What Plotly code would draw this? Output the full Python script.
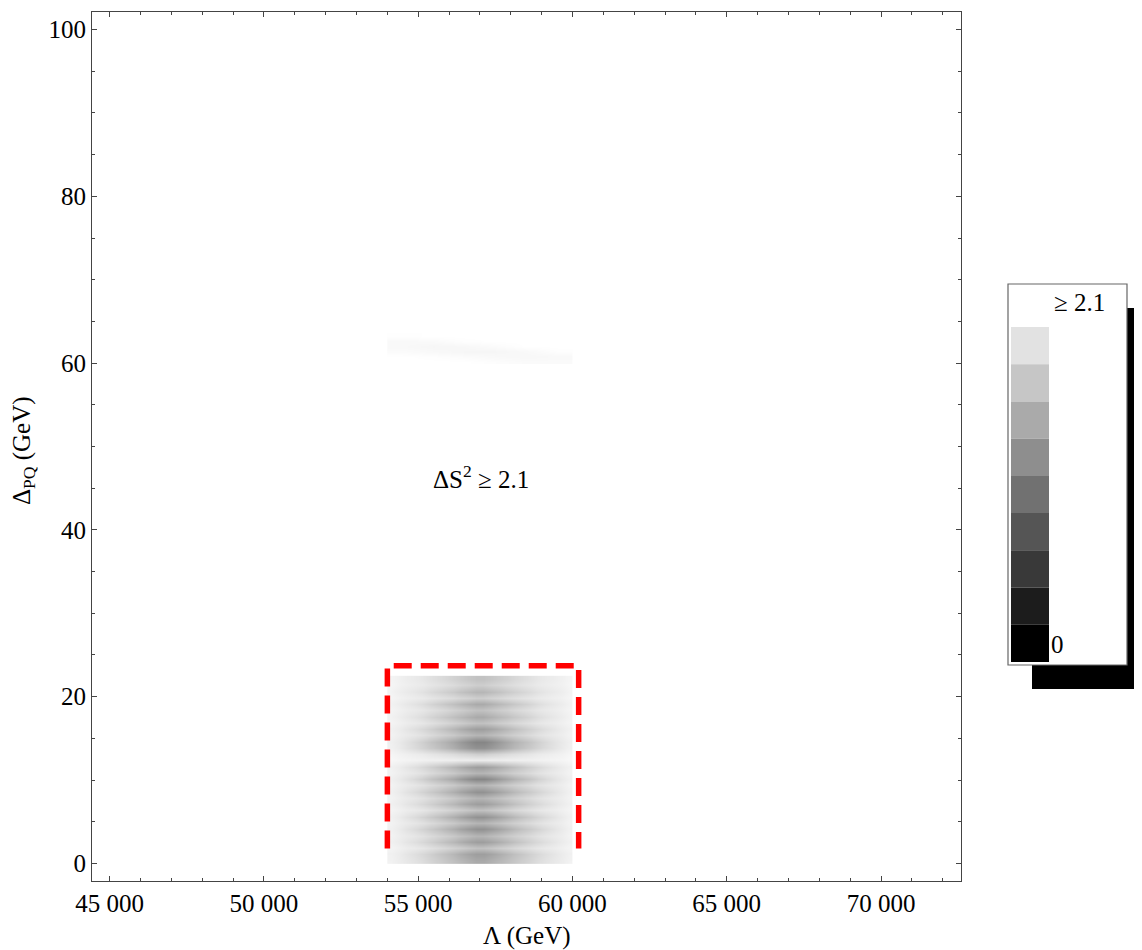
import plotly.graph_objects as go

# ---------------- data ----------------
lambda_cols = [54125, 54375, 54625, 54875, 55125, 55375, 55625, 55875, 56125, 56375, 56625, 56875,
               57125, 57375, 57625, 57875, 58125, 58375, 58625, 58875, 59125, 59375, 59625, 59875]
delta_rows = [0.375, 1.125, 1.875, 2.625, 3.375, 4.125, 4.875, 5.625, 6.375, 7.125,
              7.875, 8.625, 9.375, 10.125, 10.875, 11.625, 12.375, 13.125, 13.875, 14.625,
              15.375, 16.125, 16.875, 17.625, 18.375, 19.125, 19.875, 20.625, 21.375, 22.125]
dS2_main = [
    [1.99, 1.95, 1.91, 1.87, 1.82, 1.76, 1.70, 1.64, 1.58, 1.52, 1.46, 1.40, 1.40, 1.46, 1.52, 1.58, 1.64, 1.70, 1.76, 1.82, 1.87, 1.91, 1.95, 1.99],
    [1.98, 1.94, 1.89, 1.84, 1.78, 1.72, 1.65, 1.58, 1.51, 1.43, 1.36, 1.30, 1.30, 1.36, 1.43, 1.51, 1.58, 1.65, 1.72, 1.78, 1.84, 1.89, 1.94, 1.98],
    [2.01, 1.98, 1.95, 1.93, 1.90, 1.86, 1.82, 1.78, 1.73, 1.69, 1.64, 1.60, 1.60, 1.64, 1.69, 1.73, 1.78, 1.82, 1.86, 1.90, 1.93, 1.95, 1.98, 2.01],
    [1.98, 1.94, 1.89, 1.84, 1.78, 1.72, 1.65, 1.58, 1.51, 1.43, 1.36, 1.30, 1.30, 1.36, 1.43, 1.51, 1.58, 1.65, 1.72, 1.78, 1.84, 1.89, 1.94, 1.98],
    [2.00, 1.96, 1.93, 1.90, 1.86, 1.81, 1.76, 1.71, 1.66, 1.60, 1.55, 1.50, 1.50, 1.55, 1.60, 1.66, 1.71, 1.76, 1.81, 1.86, 1.90, 1.93, 1.96, 2.00],
    [1.98, 1.93, 1.87, 1.81, 1.74, 1.67, 1.60, 1.52, 1.44, 1.35, 1.27, 1.20, 1.20, 1.27, 1.35, 1.44, 1.52, 1.60, 1.67, 1.74, 1.81, 1.87, 1.93, 1.98],
    [2.00, 1.96, 1.93, 1.90, 1.86, 1.81, 1.76, 1.71, 1.66, 1.60, 1.55, 1.50, 1.50, 1.55, 1.60, 1.66, 1.71, 1.76, 1.81, 1.86, 1.90, 1.93, 1.96, 2.00],
    [1.98, 1.93, 1.87, 1.81, 1.74, 1.67, 1.60, 1.52, 1.44, 1.35, 1.27, 1.20, 1.20, 1.27, 1.35, 1.44, 1.52, 1.60, 1.67, 1.74, 1.81, 1.87, 1.93, 1.98],
    [2.01, 1.98, 1.95, 1.93, 1.90, 1.86, 1.82, 1.78, 1.73, 1.69, 1.64, 1.60, 1.60, 1.64, 1.69, 1.73, 1.78, 1.82, 1.86, 1.90, 1.93, 1.95, 1.98, 2.01],
    [1.98, 1.94, 1.89, 1.84, 1.78, 1.72, 1.65, 1.58, 1.51, 1.43, 1.36, 1.30, 1.30, 1.36, 1.43, 1.51, 1.58, 1.65, 1.72, 1.78, 1.84, 1.89, 1.94, 1.98],
    [2.00, 1.96, 1.93, 1.90, 1.86, 1.81, 1.76, 1.71, 1.66, 1.60, 1.55, 1.50, 1.50, 1.55, 1.60, 1.66, 1.71, 1.76, 1.81, 1.86, 1.90, 1.93, 1.96, 2.00],
    [1.98, 1.93, 1.87, 1.81, 1.74, 1.67, 1.60, 1.52, 1.44, 1.35, 1.27, 1.20, 1.20, 1.27, 1.35, 1.44, 1.52, 1.60, 1.67, 1.74, 1.81, 1.87, 1.93, 1.98],
    [2.00, 1.96, 1.93, 1.90, 1.86, 1.81, 1.76, 1.71, 1.66, 1.60, 1.55, 1.50, 1.50, 1.55, 1.60, 1.66, 1.71, 1.76, 1.81, 1.86, 1.90, 1.93, 1.96, 2.00],
    [1.97, 1.92, 1.86, 1.79, 1.71, 1.63, 1.55, 1.47, 1.38, 1.28, 1.18, 1.10, 1.10, 1.18, 1.28, 1.38, 1.47, 1.55, 1.63, 1.71, 1.79, 1.86, 1.92, 1.97],
    [2.00, 1.96, 1.93, 1.90, 1.86, 1.81, 1.76, 1.71, 1.66, 1.60, 1.55, 1.50, 1.50, 1.55, 1.60, 1.66, 1.71, 1.76, 1.81, 1.86, 1.90, 1.93, 1.96, 2.00],
    [1.98, 1.94, 1.89, 1.84, 1.78, 1.72, 1.65, 1.58, 1.51, 1.43, 1.36, 1.30, 1.30, 1.36, 1.43, 1.51, 1.58, 1.65, 1.72, 1.78, 1.84, 1.89, 1.94, 1.98],
    [2.04, 2.02, 2.01, 2.00, 1.99, 1.98, 1.98, 1.97, 1.97, 1.96, 1.96, 1.95, 1.95, 1.96, 1.96, 1.97, 1.97, 1.98, 1.98, 1.99, 2.00, 2.01, 2.02, 2.04],
    [2.02, 1.99, 1.97, 1.95, 1.93, 1.90, 1.87, 1.84, 1.81, 1.77, 1.74, 1.70, 1.70, 1.74, 1.77, 1.81, 1.84, 1.87, 1.90, 1.93, 1.95, 1.97, 1.99, 2.02],
    [1.98, 1.93, 1.87, 1.81, 1.74, 1.67, 1.60, 1.52, 1.44, 1.35, 1.27, 1.20, 1.20, 1.27, 1.35, 1.44, 1.52, 1.60, 1.67, 1.74, 1.81, 1.87, 1.93, 1.98],
    [1.97, 1.92, 1.86, 1.79, 1.71, 1.63, 1.55, 1.47, 1.38, 1.28, 1.18, 1.10, 1.10, 1.18, 1.28, 1.38, 1.47, 1.55, 1.63, 1.71, 1.79, 1.86, 1.92, 1.97],
    [2.00, 1.96, 1.93, 1.90, 1.86, 1.81, 1.76, 1.71, 1.66, 1.60, 1.55, 1.50, 1.50, 1.55, 1.60, 1.66, 1.71, 1.76, 1.81, 1.86, 1.90, 1.93, 1.96, 2.00],
    [1.98, 1.94, 1.89, 1.84, 1.78, 1.72, 1.65, 1.58, 1.51, 1.43, 1.36, 1.30, 1.30, 1.36, 1.43, 1.51, 1.58, 1.65, 1.72, 1.78, 1.84, 1.89, 1.94, 1.98],
    [2.01, 1.98, 1.95, 1.93, 1.90, 1.86, 1.82, 1.78, 1.73, 1.69, 1.64, 1.60, 1.60, 1.64, 1.69, 1.73, 1.78, 1.82, 1.86, 1.90, 1.93, 1.95, 1.98, 2.01],
    [1.99, 1.95, 1.91, 1.87, 1.82, 1.76, 1.70, 1.64, 1.58, 1.52, 1.46, 1.40, 1.40, 1.46, 1.52, 1.58, 1.64, 1.70, 1.76, 1.82, 1.87, 1.91, 1.95, 1.99],
    [2.01, 1.98, 1.95, 1.93, 1.90, 1.86, 1.82, 1.78, 1.73, 1.69, 1.64, 1.60, 1.60, 1.64, 1.69, 1.73, 1.78, 1.82, 1.86, 1.90, 1.93, 1.95, 1.98, 2.01],
    [1.99, 1.95, 1.91, 1.87, 1.82, 1.76, 1.70, 1.64, 1.58, 1.52, 1.46, 1.40, 1.40, 1.46, 1.52, 1.58, 1.64, 1.70, 1.76, 1.82, 1.87, 1.91, 1.95, 1.99],
    [2.02, 1.99, 1.97, 1.95, 1.93, 1.90, 1.87, 1.84, 1.81, 1.77, 1.74, 1.70, 1.70, 1.74, 1.77, 1.81, 1.84, 1.87, 1.90, 1.93, 1.95, 1.97, 1.99, 2.02],
    [2.00, 1.96, 1.93, 1.90, 1.86, 1.81, 1.76, 1.71, 1.66, 1.60, 1.55, 1.50, 1.50, 1.55, 1.60, 1.66, 1.71, 1.76, 1.81, 1.86, 1.90, 1.93, 1.96, 2.00],
    [2.02, 1.99, 1.97, 1.95, 1.93, 1.90, 1.87, 1.84, 1.81, 1.77, 1.74, 1.70, 1.70, 1.74, 1.77, 1.81, 1.84, 1.87, 1.90, 1.93, 1.95, 1.97, 1.99, 2.02],
    [2.01, 1.98, 1.95, 1.93, 1.90, 1.86, 1.82, 1.78, 1.73, 1.69, 1.64, 1.60, 1.60, 1.64, 1.69, 1.73, 1.78, 1.82, 1.86, 1.90, 1.93, 1.95, 1.98, 2.01],
]

faint_cols = [54500, 55500, 56500, 57500, 58500, 59500]
faint_rows = [60.2, 60.8, 61.4, 62.0, 62.6, 63.2]
dS2_faint = [
    [2.10, 2.10, 2.10, 2.08, 2.06, 2.06],
    [2.10, 2.09, 2.07, 2.05, 2.04, 2.05],
    [2.07, 2.05, 2.03, 2.03, 2.05, 2.09],
    [2.05, 2.03, 2.04, 2.07, 2.10, 2.10],
    [2.05, 2.06, 2.09, 2.10, 2.10, 2.10],
    [2.09, 2.10, 2.10, 2.10, 2.10, 2.10],
]

box_lambda = [54000, 60200]
box_delta = [1.8, 23.7]

x_tickvals = [45000, 50000, 55000, 60000, 65000, 70000]
x_ticktext = ["45 000", "50 000", "55 000", "60 000", "65 000", "70 000"]
y_tickvals = [0, 20, 40, 60, 80, 100]

legend_colors = ["#e2e2e2", "#c6c6c6", "#aaaaaa", "#8e8e8e", "#717171",
                 "#555555", "#393939", "#1c1c1c", "#000000"]
legend_top_label = "\u2265 2.1"
legend_bottom_label = "0"
z_max = 2.1

# ---------------- layout constants ----------------
PAGE_OFF = 8                      # default body margin of the page
W, H = 1142 - PAGE_OFF, 950 - PAGE_OFF
PW, PH = 869, 869
L, T = 92 - PAGE_OFF, 12 - PAGE_OFF
R, B = W - L - PW, H - T - PH
FONT = "Liberation Serif, Times New Roman, serif"
FS = 25


def fx(px):
    # page pixel -> paper x
    return (px - PAGE_OFF - L) / PW


def fy(py):
    # page pixel -> paper y
    return (H - B - (py - PAGE_OFF)) / PH


gray_scale = [[0.0, "#000000"], [1.0, "#ffffff"]]

fig = go.Figure()
fig.add_trace(go.Heatmap(x=lambda_cols, y=delta_rows, z=dS2_main, zmin=0, zmax=z_max,
                         colorscale=gray_scale, showscale=False, zsmooth="best",
                         hoverinfo="skip"))
fig.add_trace(go.Heatmap(x=faint_cols, y=faint_rows, z=dS2_faint, zmin=0, zmax=z_max,
                         colorscale=gray_scale, showscale=False, zsmooth="best",
                         hoverinfo="skip"))
fig.add_trace(go.Scatter(x=[box_lambda[0], box_lambda[0], box_lambda[1], box_lambda[1]],
                         y=[box_delta[0], box_delta[1], box_delta[1], box_delta[0]],
                         mode="lines", line=dict(color="#ff0000", width=5.5, dash="18px,9px"),
                         showlegend=False, hoverinfo="skip"))

axis_common = dict(showgrid=False, zeroline=False, showline=True, linecolor="#444444",
                   linewidth=1, mirror="ticks", ticks="inside", ticklen=5, tickwidth=1,
                   tickcolor="#444444",
                   tickfont=dict(family=FONT, size=FS, color="#000000"))

fig.update_xaxes(range=[44426, 72593], tickvals=x_tickvals, ticktext=x_ticktext,
                 minor=dict(dtick=1000, tick0=0, ticks="inside", ticklen=3, tickcolor="#444444"),
                 **axis_common)
fig.update_yaxes(range=[-2.1, 102.1], tickvals=y_tickvals,
                 minor=dict(dtick=5, tick0=0, ticks="inside", ticklen=3, tickcolor="#444444"),
                 **axis_common)

shapes = []
annotations = []

# legend shadow and box
shapes.append(dict(type="rect", xref="paper", yref="paper", x0=fx(1032), x1=fx(1150),
                   y0=fy(689), y1=fy(308), fillcolor="#000000", line=dict(width=0), layer="above"))
shapes.append(dict(type="rect", xref="paper", yref="paper", x0=fx(1008), x1=fx(1127),
                   y0=fy(665), y1=fy(284), fillcolor="#ffffff",
                   line=dict(color="#666666", width=1.2), layer="above"))
sw_top, sw_h = 327, (662 - 327) / len(legend_colors)
for i, c in enumerate(legend_colors):
    shapes.append(dict(type="rect", xref="paper", yref="paper", x0=fx(1011), x1=fx(1049),
                       y0=fy(sw_top + (i + 1) * sw_h), y1=fy(sw_top + i * sw_h),
                       fillcolor=c, line=dict(width=0), layer="above"))

annotations.append(dict(xref="paper", yref="paper", x=fx(1079), y=fy(302), text=legend_top_label,
                        showarrow=False, xanchor="center", yanchor="middle",
                        font=dict(family=FONT, size=FS, color="#000000")))
annotations.append(dict(xref="paper", yref="paper", x=fx(1057), y=fy(644), text=legend_bottom_label,
                        showarrow=False, xanchor="center", yanchor="middle",
                        font=dict(family=FONT, size=FS, color="#000000")))

# in-plot label
annotations.append(dict(xref="x", yref="y", x=57050, y=46.3, text="\u0394S<sup>2</sup> \u2265 2.1",
                        showarrow=False, xanchor="center", yanchor="middle",
                        font=dict(family=FONT, size=FS, color="#000000")))

# axis titles
annotations.append(dict(xref="paper", yref="paper", x=fx(527), y=fy(936), text="\u039b (GeV)",
                        showarrow=False, xanchor="center", yanchor="middle",
                        font=dict(family=FONT, size=FS, color="#000000")))
annotations.append(dict(xref="paper", yref="paper", x=fx(23), y=fy(451),
                        text="\u0394<sub>PQ</sub> (GeV)", textangle=-90,
                        showarrow=False, xanchor="center", yanchor="middle",
                        font=dict(family=FONT, size=FS, color="#000000")))

fig.update_layout(width=W, height=H, margin=dict(l=L, r=R, t=T, b=B, autoexpand=False),
                  paper_bgcolor="#ffffff", plot_bgcolor="#ffffff", showlegend=False,
                  shapes=shapes, annotations=annotations,
                  font=dict(family=FONT, size=FS, color="#000000"))

fig.write_html("out.html")
